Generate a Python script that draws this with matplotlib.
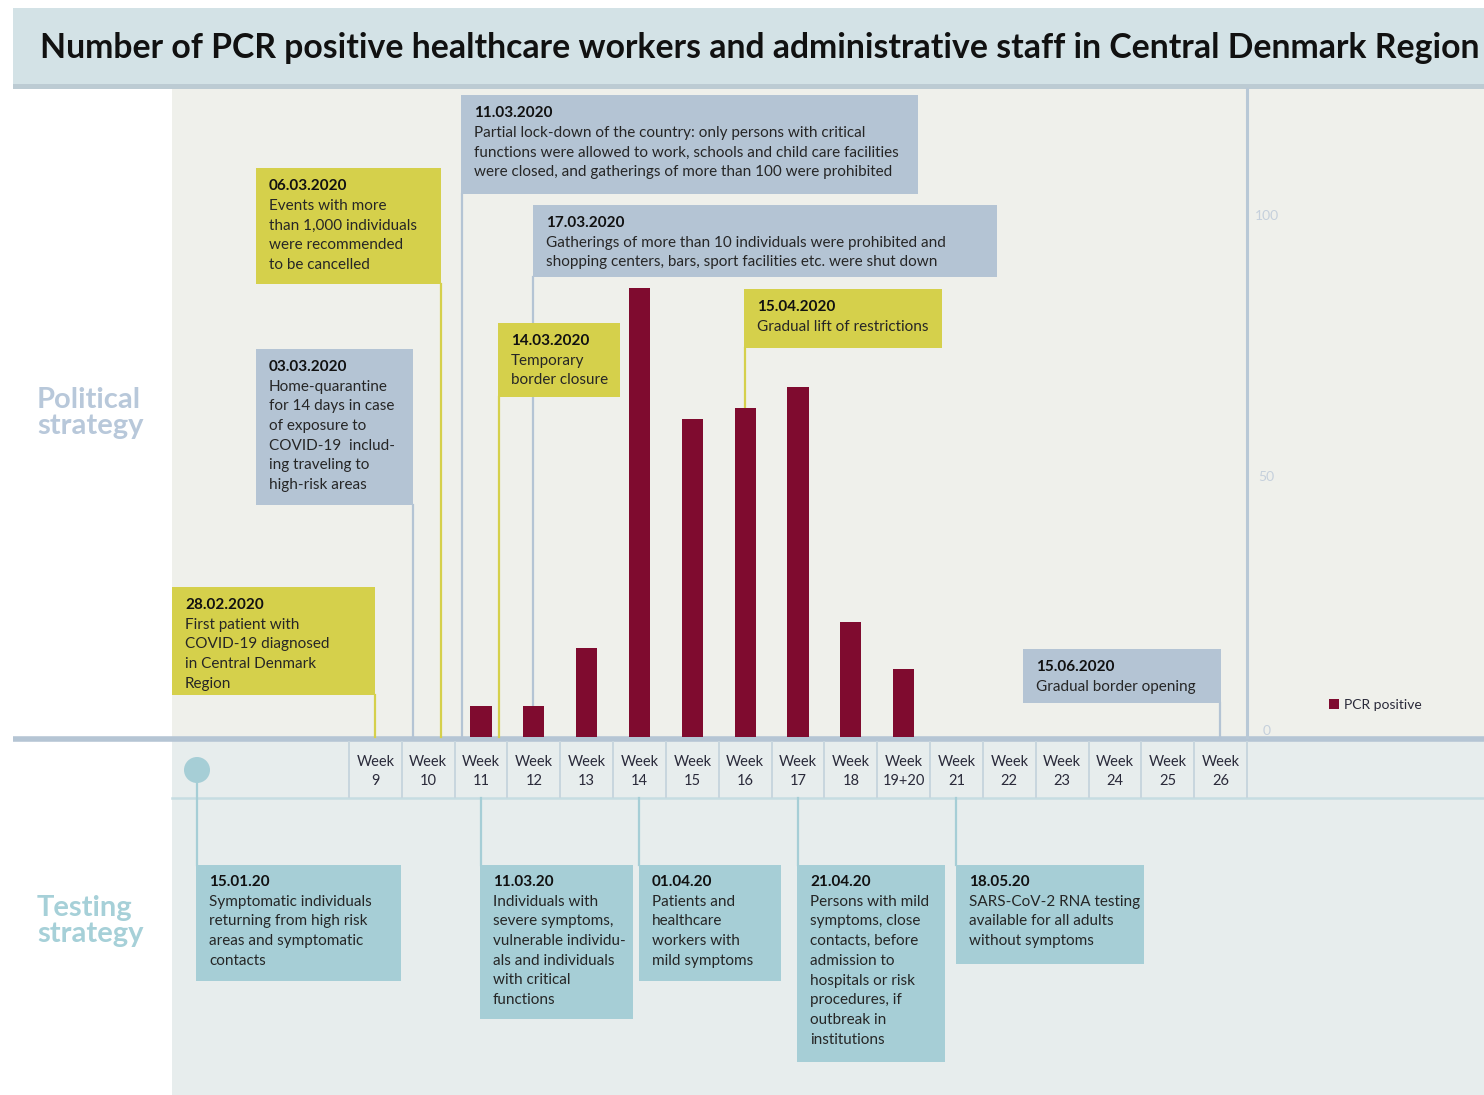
import numpy as np
import matplotlib
matplotlib.use("Agg")
import matplotlib.pyplot as plt
from matplotlib.patches import Rectangle, Circle

plt.rcParams["font.family"] = ["Lato", "DejaVu Sans"]

W, H = 1484, 1095

# Data
weeks = ["9", "10", "11", "12", "13", "14", "15", "16", "17", "18", "19+20",
         "21", "22", "23", "24", "25", "26"]
pcr_positive = [0, 0, 6, 6, 17, 86, 61, 63, 67, 22, 13, 0, 0, 0, 0, 0, 0]
y_ticks = [0, 50, 100]

political_dates = ["28.02.2020", "03.03.2020", "06.03.2020", "11.03.2020",
                   "14.03.2020", "17.03.2020", "15.04.2020", "15.06.2020"]
political_texts = [
    ["First patient with", "COVID-19 diagnosed", "in Central Denmark", "Region"],
    ["Home-quarantine", "for 14 days in case", "of exposure to", "COVID-19  includ-",
     "ing traveling to", "high-risk areas"],
    ["Events with more", "than 1,000 individuals", "were recommended", "to be cancelled"],
    ["Partial lock-down of the country: only persons with critical",
     "functions were allowed to work, schools and child care facilities",
     "were closed, and gatherings of more than 100 were prohibited"],
    ["Temporary", "border closure"],
    ["Gatherings of more than 10 individuals were prohibited and",
     "shopping centers, bars, sport facilities etc. were shut down"],
    ["Gradual lift of restrictions"],
    ["Gradual border opening"],
]
political_kind = ["y", "b", "y", "b", "y", "b", "y", "b"]

testing_dates = ["15.01.20", "11.03.20", "01.04.20", "21.04.20", "18.05.20"]
testing_texts = [
    ["Symptomatic individuals", "returning from high risk", "areas and symptomatic", "contacts"],
    ["Individuals with", "severe symptoms,", "vulnerable individu-", "als and individuals",
     "with critical", "functions"],
    ["Patients and", "healthcare", "workers with", "mild symptoms"],
    ["Persons with mild", "symptoms, close", "contacts, before", "admission to",
     "hospitals or risk", "procedures, if", "outbreak in", "institutions"],
    ["SARS-CoV-2 RNA testing", "available for all adults", "without symptoms"],
]

# Layout (pixels): box x0, y0, x1, y1, connector x, connector end y
pol_layout = [
    (172, 587, 375, 695, 375, 737),
    (256, 349, 413, 505, 413, 737),
    (256, 168, 441, 284, 441, 737),
    (461, 95, 918, 194, 462, 737),
    (498, 323, 620, 397, 499, 737),
    (533, 205, 997, 277, 533, 737),
    (744, 289, 942, 348, 745, 420),
    (1023, 649, 1221, 703, 1220, 737),
]
test_layout = [
    (196, 865, 401, 981, 197),
    (480, 865, 633, 1019, 481),
    (639, 865, 781, 981, 639),
    (797, 865, 945, 1062, 798),
    (956, 865, 1144, 964, 956),
]

YEL = "#d5d04b"
BLU = "#b4c4d4"
TEAL = "#a6ced6"
BAR = "#7f0b2f"
TXT = "#262626"

fig = plt.figure(figsize=(W / 100, H / 100), dpi=100, facecolor="white")
bg = fig.add_axes([0, 0, 1, 1], zorder=0)
bg.set_xlim(0, W)
bg.set_ylim(H, 0)
bg.axis("off")

# backgrounds
bg.add_patch(Rectangle((13, 8), W - 13, 78, color="#d3e2e6", lw=0))
bg.add_patch(Rectangle((13, 84), W - 13, 5, color="#bccbd3", lw=0))
bg.add_patch(Rectangle((172, 89), W - 172, 648, color="#eff0eb", lw=0))
bg.add_patch(Rectangle((172, 741), W - 172, H - 741, color="#e7eded", lw=0))
bg.plot([13, W], [739, 739], color="#b5c5d4", lw=4, solid_capstyle="butt")
bg.plot([172, W], [798, 798], color="#c6dde2", lw=1.8)

# week column separators
col_left, col_right = 349, 1247
col_w = (col_right - col_left) / len(weeks)
for k in range(len(weeks) + 1):
    bg.plot([col_left + k * col_w] * 2, [742, 797], color="#c8d6de", lw=1.4)

# title
title = bg.text(40, 48, "Number of PCR positive healthcare workers and administrative staff in Central Denmark Region",
                fontsize=21, fontweight="bold", color="#111111", va="center", ha="left")
fig.canvas.draw()
tw = title.get_window_extent().width
title.set_fontsize(21 * 1438 / tw)

bg.text(37, 413, "Political\nstrategy", fontsize=21, fontweight="bold", color="#b8c8da",
        va="center", ha="left", linespacing=0.98)
bg.text(37, 921, "Testing\nstrategy", fontsize=21, fontweight="bold", color="#a6d0d8",
        va="center", ha="left", linespacing=0.98)


def draw_box(x0, y0, x1, y1, color, date, lines, step=19.7, first=18):
    bg.add_patch(Rectangle((x0, y0), x1 - x0, y1 - y0, color=color, lw=0, zorder=3))
    bg.text(x0 + 13, y0 + first, date, fontsize=11, fontweight="bold", color="#111111",
            va="center", ha="left", zorder=4)
    for i, ln in enumerate(lines):
        bg.text(x0 + 13, y0 + first + (i + 1) * step, ln, fontsize=11, color=TXT,
                va="center", ha="left", zorder=4)


for (x0, y0, x1, y1, lx, ly), d, t, k in zip(pol_layout, political_dates, political_texts, political_kind):
    c = YEL if k == "y" else BLU
    bg.plot([lx, lx], [y1, ly], color=c, lw=1.6, zorder=2)
    draw_box(x0, y0, x1, y1, c, d, t)

bg.add_patch(Circle((197, 770), 13, color=TEAL, lw=0, zorder=3))
for (x0, y0, x1, y1, lx), d, t in zip(test_layout, testing_dates, testing_texts):
    ystart = 770 if lx == 197 else 798
    bg.plot([lx, lx], [ystart, y0], color=TEAL, lw=1.6, zorder=2)
    draw_box(x0, y0, x1, y1, TEAL, d, t, first=17)

# bar chart
px_per_unit = (737 - 215) / 100
ax = fig.add_axes([col_left / W, 1 - 737 / H, (col_right - col_left) / W, (737 - 89) / H], zorder=1)
ax.patch.set_alpha(0)
x = np.arange(len(weeks))
ax.bar(x, pcr_positive, width=0.4, color=BAR, label="PCR positive", zorder=3)
ax.set_xlim(-0.5, len(weeks) - 0.5)
ax.set_ylim(0, (737 - 89) / px_per_unit)
for s in ["top", "left", "bottom"]:
    ax.spines[s].set_visible(False)
ax.spines["right"].set_color("#b8c8d6")
ax.spines["right"].set_linewidth(2.2)
ax.yaxis.tick_right()
ax.set_yticks(y_ticks)
ax.tick_params(axis="y", length=0, pad=14, labelsize=10, labelcolor="#c5d0dc")
for lab in ax.get_yticklabels():
    lab.set_horizontalalignment("center")
ax.get_yticklabels()[0].set_verticalalignment("bottom")
ax.set_xticks(x)
ax.set_xticklabels(["Week\n" + w for w in weeks])
ax.tick_params(axis="x", length=0, pad=13, labelsize=10.5, labelcolor="#2a2a3a")
for lab in ax.get_xticklabels():
    lab.set_linespacing(1.45)

ax.legend(loc="center left", bbox_to_anchor=(1322 / W, 1 - 705 / H), bbox_transform=fig.transFigure,
          frameon=False, handlelength=0.7, handleheight=0.7, handletextpad=0.4, fontsize=10,
          borderpad=0, labelcolor="#2a2a3a")

fig.savefig("out.png", dpi=100, facecolor="white")
